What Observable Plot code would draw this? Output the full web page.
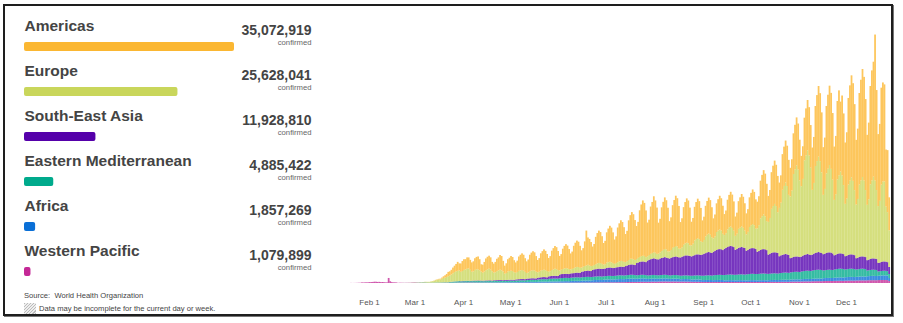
<!DOCTYPE html>
<html>
<head>
<meta charset="utf-8">
<script src="https://cdn.jsdelivr.net/npm/d3@7"></script>
<script src="https://cdn.jsdelivr.net/npm/@observablehq/plot@0.6"></script>
<style>
  html, body { margin: 0; padding: 0; background: #fff; }
  body { font-family: "Liberation Sans", Arial, sans-serif; }
  #wrap { position: relative; width: 903px; height: 323px; overflow: hidden; background: #fff; }
  #frame { position: absolute; left: 3px; top: 4px; width: 886px; height: 308px; border: 2px solid #1e1e1e; box-shadow: 1px 1px 0 #777; }
  #panel { position: absolute; left: 0; top: 0; }
  #chart { position: absolute; left: 320px; top: 0; }
  .note { position: absolute; font-size: 7.6px; line-height: 7.6px; color: #444; white-space: nowrap; }
  #hatch { position: absolute; left: 24px; top: 303px; width: 12px; height: 11px;
    background: repeating-linear-gradient(135deg, #bbb 0 1px, #eee 1px 2.2px); }
</style>
</head>
<body>
<div id="wrap">
  <div id="frame"></div>
  <div id="panel"></div>
  <div id="chart"></div>
  <div class="note" style="left:24px;top:292px;">Source:&nbsp; World Health Organization</div>
  <div id="hatch"></div>
  <div class="note" style="left:39px;top:305px;">Data may be incomplete for the current day or week.</div>
</div>
<script>
// ---------- Legend panel data ----------
const regions = ["Americas", "Europe", "South-East Asia", "Eastern Mediterranean", "Africa", "Western Pacific"];
const totals = [35072919, 25628041, 11928810, 4885422, 1857269, 1079899];
const colors = ["#fbb732", "#c9d65b", "#5500aa", "#00aa8c", "#0a6fd6", "#c42896"];
const chartColors = ["#fdc65c", "#d5df7e", "#7736bf", "#35bca2", "#3d8ce0", "#d057ad"];
const confirmedLabel = "confirmed";
const tickMonths = ["2020-02-01","2020-03-01","2020-04-01","2020-05-01","2020-06-01","2020-07-01","2020-08-01","2020-09-01","2020-10-01","2020-11-01","2020-12-01"];

// ---------- Daily new cases (thousands), Mon 20 Jan 2020 .. Mon 28 Dec 2020, one row per week ----------
const firstDay = "2020-01-20";

const westernPacific = [
[0.3,0.1,0.2,0.3,0.5,0.7,0.8],[1.8,1.5,1.8,2.0,2.1,2.6,2.8],[3.2,3.9,3.7,3.2,3.4,2.7,3.0],[2.5,2.0,2.0,15.1,5.1,2.6,2.0],
[1.9,1.7,0.4,0.9,0.8,0.6,0.5],[0.6,0.7,0.7,0.8,1.1,1.3,1.4],[0.9,0.8,0.8,0.6,0.8,0.7,0.5],[0.4,0.3,0.3,0.3,0.3,0.3,0.4],
[0.4,0.5,0.5,0.6,0.7,0.7,0.8],[0.8,0.9,0.9,1.0,1.0,1.1,1.2],[1.0,1.1,1.2,1.3,1.3,1.4,1.3],[1.2,1.3,1.2,1.1,1.2,1.1,1.0],
[0.9,0.9,1.0,0.9,0.9,1.1,0.8],[0.9,0.8,0.8,0.9,0.8,0.8,0.7],[0.8,0.7,0.7,0.8,0.8,0.9,0.8],[0.9,0.9,1.0,0.9,0.9,1.0,0.9],
[0.9,0.9,0.9,0.9,0.9,0.8,0.9],[0.8,0.9,0.9,0.9,0.9,1.0,0.9],[0.9,1.0,0.9,1.0,1.0,1.0,1.1],[1.1,1.2,1.1,1.2,1.3,1.3,1.2],
[1.2,1.3,1.3,1.3,1.4,1.4,1.3],[1.4,1.5,1.4,1.5,1.6,1.5,1.5],[1.6,1.7,1.8,1.8,1.9,1.9,1.8],[1.9,2.0,2.1,2.1,2.2,2.2,2.1],
[2.2,2.3,2.4,2.5,2.5,2.6,2.5],[2.8,2.9,3.0,3.1,3.2,3.2,3.1],[3.3,3.4,3.6,3.7,3.8,3.8,3.6],[3.7,3.8,3.9,4.1,4.2,4.1,4.0],
[4.4,4.5,4.5,4.6,4.7,4.6,4.5],[4.4,4.5,4.6,4.6,4.5,4.4,4.3],[4.2,4.3,4.3,4.2,4.1,4.1,4.0],[3.7,3.6,3.7,3.6,3.6,3.5,3.4],
[3.1,3.0,3.1,3.0,3.0,2.9,2.9],[2.9,3.0,3.0,3.0,3.1,3.0,2.9],[2.9,3.0,3.0,3.0,3.1,3.0,3.0],[2.9,3.0,3.0,3.1,3.0,3.0,2.9],
[2.9,3.0,3.0,3.0,3.1,3.0,3.0],[3.0,3.0,3.1,3.0,3.0,3.0,2.9],[3.1,3.2,3.3,3.3,3.4,3.3,3.2],[3.4,3.5,3.6,3.6,3.7,3.6,3.5],
[4.0,4.1,4.2,4.2,4.3,4.3,4.2],[4.6,4.7,4.8,4.9,4.9,4.9,4.8],[5.2,5.3,5.4,5.5,5.5,5.5,5.4],[5.8,5.9,6.0,6.1,6.1,6.0,6.0],
[6.4,6.5,6.6,6.7,6.7,6.6,6.5],[7.0,7.1,7.2,7.3,7.3,7.2,7.1],[7.6,7.7,7.8,7.9,7.9,7.8,7.8],[8.2,8.3,8.4,8.5,8.5,8.4,8.4],
[8.8,8.9,9.0,9.1,9.0,8.9,8.8],[6.0]
].flat();

const africa = [
[0,0,0,0,0,0,0],[0,0,0,0,0,0,0],[0,0,0,0,0,0,0],[0,0,0,0,0,0,0],
[0,0,0,0,0,0,0],[0,0,0,0,0,0,0],[0,0,0,0,0,0,0],[0,0,0,0,0.1,0.1,0.1],
[0.1,0.1,0.1,0.1,0.2,0.2,0.2],[0.3,0.3,0.3,0.4,0.4,0.4,0.5],[0.5,0.5,0.6,0.6,0.7,0.7,0.6],[0.6,0.6,0.7,0.7,0.8,0.8,0.7],
[0.8,0.8,0.9,0.9,1,1,0.9],[1.1,1.1,1.2,1.2,1.3,1.3,1.2],[1.4,1.4,1.5,1.6,1.6,1.6,1.5],[1.7,1.7,1.8,1.9,1.9,1.9,1.8],
[2.2,2.3,2.4,2.5,2.5,2.5,2.4],[2.8,2.9,3,3.1,3.2,3.1,3],[3.4,3.5,3.6,3.7,3.8,3.7,3.6],[4,4.1,4.2,4.3,4.4,4.3,4.2],
[4.8,5,5.1,5.2,5.3,5.2,5.1],[5.7,5.9,6,6.1,6.2,6.1,6],[6.8,7,7.2,7.4,7.5,7.3,7.2],[8,8.2,8.4,8.6,8.7,8.5,8.4],
[8.6,8.8,9,9.2,9.3,9.1,9],[9.4,9.7,9.9,10.2,10.3,10.1,9.8],[9.5,9.7,10,10.2,10.2,10,9.7],[8.6,8.8,9,9.3,9.3,9.1,8.9],
[8.6,8.8,9,9.2,9.3,9.1,9],[8,8.2,8.4,8.6,8.7,8.5,8.4],[7.2,7.3,7.5,7.7,7.7,7.6,7.5],[6.6,6.7,6.9,7.1,7.1,7,6.9],
[5.7,5.8,6,6.2,6.2,6.1,6],[5.7,5.9,6,6.1,6.2,6.1,6],[5.1,5.3,5.4,5.5,5.6,5.5,5.4],[5.2,5.3,5.4,5.5,5.5,5.4,5.3],
[5.1,5.2,5.4,5.6,5.6,5.5,5.4],[5.2,5.3,5.4,5.5,5.6,5.4,5.3],[5.4,5.6,5.7,5.8,5.9,5.8,5.7],[5.7,5.9,6,6.1,6.2,6.1,6],
[6.3,6.4,6.6,6.8,6.8,6.7,6.6],[6.8,7,7.2,7.4,7.5,7.3,7.2],[7.4,7.6,7.8,8,8.1,7.9,7.8],[8.6,8.8,9,9.2,9.3,9.1,9],
[9.4,9.7,9.9,10.2,10.3,10.1,9.8],[10.3,10.5,10.8,11.1,11.2,11,10.7],[10.9,11.1,11.4,11.7,11.8,11.6,11.3],[12,12.3,12.6,12.9,13,12.8,12.6],
[12.9,13.2,13.5,13.8,13.9,13.7,13.4],[9]
].flat();

const easternMediterranean = [
[0,0,0,0,0,0,0],[0,0,0,0,0,0,0],[0,0,0,0,0,0,0],[0,0,0,0,0,0,0],
[0,0,0,0,0,0.1,0.1],[0.1,0.1,0.1,0.1,0.2,0.2,0.3],[0.5,0.6,0.8,0.9,1.1,1.2,1.1],[0.8,0.9,0.9,1,1,1.1,1.1],
[1.1,1.2,1.2,1.3,1.2,1.2,1.3],[1.8,2.2,2.8,3.2,3.4,3.6,3.8],[3.4,3.5,3.6,3.7,3.8,3.7,3.6],[3.7,3.8,3.9,4,4,3.9,3.9],
[3.7,3.8,3.9,4,4.1,4,3.8],[4,4.1,4.2,4.3,4.4,4.3,4.1],[4.3,4.4,4.5,4.6,4.7,4.6,4.4],[4.8,5,5.1,5.2,5.3,5.2,5.1],
[5.7,5.9,6,6.2,6.2,6.1,6],[6.8,7,7.2,7.4,7.5,7.3,7.1],[8,8.2,8.4,8.6,8.7,8.5,8.3],[9.1,9.4,9.6,9.8,9.9,9.7,9.5],
[9.7,10,10.2,10.4,10.5,10.3,10.1],[10,10.3,10.5,10.7,10.8,10.6,10.4],[10,10.3,10.5,10.7,10.8,10.6,10.4],[10.1,10.3,10.5,10.7,10.7,10.5,10.4],
[10.6,10.9,11.1,11.3,11.4,11.2,11],[10.7,10.9,11.1,11.3,11.3,11.1,11],[10.1,10.3,10.5,10.7,10.7,10.5,10.4],[10.1,10.3,10.5,10.7,10.7,10.5,10.4],
[10,10.3,10.5,10.7,10.8,10.6,10.3],[10.1,10.3,10.5,10.7,10.7,10.5,10.4],[10.4,10.6,10.8,11,11,10.8,10.7],[11.5,11.8,12,12.2,12.3,12.1,11.9],
[13,13.2,13.5,13.8,13.9,13.7,13.4],[14.4,14.7,15,15.3,15.4,15.2,14.9],[15.8,16.2,16.5,16.8,16.9,16.7,16.4],[16.4,16.8,17.1,17.4,17.5,17.3,17],
[17.9,18.3,18.6,18.9,19,18.8,18.5],[18.7,19.1,19.5,19.9,20,19.7,19.4],[18.8,19.2,19.5,19.8,19.9,19.6,19.3],[20.2,20.6,21,21.4,21.5,21.2,20.9],
[21.3,21.8,22.2,22.6,22.7,22.4,22.1],[23,23.5,24,24.5,24.6,24.3,23.9],[24.8,25.3,25.8,26.3,26.4,26.1,25.7],[23.1,23.5,24,24.5,24.6,24.3,23.9],
[24.5,25,25.5,26,26.1,25.8,25.4],[23.2,23.6,24.1,24.5,24.5,24.2,23.8],[21.9,22.3,22.8,23.2,23.3,23,22.7],[17.3,17.6,18,18.4,18.4,18.2,17.9],
[13,13.2,13.5,13.8,13.9,13.7,13.4],[12]
].flat();

const southEastAsia = [
[0,0,0,0,0,0,0],[0,0,0,0,0,0,0],[0,0,0,0,0,0,0],[0,0,0,0,0,0,0],
[0,0,0,0,0,0,0],[0,0,0,0,0,0,0],[0,0,0,0,0,0,0],[0,0,0,0,0,0,0],
[0,0,0,0.1,0.1,0.1,0.1],[0.2,0.2,0.3,0.3,0.3,0.3,0.4],[0.7,0.8,0.9,0.9,1,1,1],[1.3,1.4,1.5,1.5,1.6,1.6,1.6],
[1.6,1.7,1.8,1.9,1.9,1.9,1.8],[2.2,2.3,2.4,2.5,2.5,2.5,2.4],[2.5,2.6,2.7,2.8,2.8,2.8,2.7],[3.3,3.5,3.6,3.7,3.8,3.7,3.6],
[4.2,4.4,4.5,4.6,4.7,4.6,4.5],[5.6,5.8,6,6.2,6.3,6.1,6],[7.6,7.9,8.1,8.3,8.4,8.3,8.1],[11,12,12,12,12,12,12],
[13,13,13,14,14,14,14],[17,17,18,18,19,18,18],[21,22,22,23,23,23,23],[23,23,24,25,25,25,24],
[24,25,25,26,26,26,26],[28,29,30,31,31,31,30],[37,38,39,40,40,40,39],[45,47,48,49,50,49,48],
[48,50,51,52,53,52,51],[51,53,54,55,56,55,54],[55,57,58,60,60,60,59],[58,60,61,63,63,63,62],
[64,66,67,69,70,69,68],[71,73,75,77,77,77,75],[79,81,83,85,86,85,83],[75,77,80,81,82,81,80],
[71,73,75,77,77,77,75],[67,69,71,73,73,73,71],[58,60,62,63,63,63,62],[51,53,54,55,56,55,54],
[43,44,45,46,46,46,45],[45,47,48,49,50,49,48],[48,50,51,52,53,52,51],[49,50,51,52,52,52,50],
[43,44,45,46,46,46,45],[40,41,42,43,43,43,42],[34,35,36,37,37,37,36],[31,32,33,34,34,34,33],
[26,26,27,28,28,28,27],[21]
].flat();

const europe = [
[0,0,0,0,0,0,0],[0,0,0,0,0,0,0],[0,0,0,0,0,0,0],[0,0,0,0,0,0,0],
[0,0,0,0,0,0.1,0.1],[0.1,0.1,0.2,0.2,0.3,0.4,0.5],[0.5,0.6,0.6,0.9,1,1.5,1.8],[2,2,3,4,5,7,8],
[9,9,11,13,14,16,18],[20,22,25,28,30,31,32],[28,30,33,34,36,37,33],[27,28,32,34,33,31,27],
[24,27,31,33,35,32,28],[23,24,27,29,31,29,26],[19,21,25,26,27,26,23],[20,22,25,26,27,25,22],
[17,18,22,23,24,23,20],[16,17,20,21,22,21,19],[14,15,18,19,21,20,18],[12,13,15,16,17,16,15],
[12,13,15,16,17,17,15],[12,14,15,16,17,16,15],[12,13,15,16,17,17,15],[12,13,16,16,17,16,15],
[12,13,15,16,17,17,15],[12,13,15,17,17,16,15],[12,14,15,16,17,17,15],[13,14,16,17,18,18,16],
[17,18,21,23,24,24,20],[21,23,28,29,31,31,26],[26,28,34,36,38,37,32],[33,36,44,46,48,46,41],
[37,41,50,53,55,53,47],[40,43,54,56,59,56,49],[41,44,53,57,58,55,49],[42,46,57,59,62,59,52],
[49,54,66,69,72,69,61],[70,77,95,99,104,99,87],[98,107,132,139,145,139,122],[145,158,195,205,214,205,180],
[185,201,249,261,273,261,230],[211,230,284,297,311,297,262],[194,212,261,274,286,274,242],[178,194,239,251,262,251,221],
[166,181,224,234,245,234,207],[157,171,211,221,231,221,195],[161,176,217,228,238,228,201],[166,181,224,234,245,234,207],
[170,185,232,240,240,165,150],[110]
].flat();

const americas = [
[0,0,0,0,0,0,0],[0,0,0,0,0,0,0],[0,0,0,0,0,0,0],[0,0,0,0,0,0,0],
[0,0,0,0,0,0,0],[0,0,0,0,0,0,0],[0,0,0.1,0.1,0.1,0.2,0.2],[0.2,0.3,0.4,0.5,0.8,1,1.5],
[1.8,2.3,3.5,5,7,9,13],[12,14,17,19,22,27,21],[25,30,32,31,34,33,30],[28,30,35,37,39,33,22],
[24,29,35,38,39,37,28],[27,31,37,39,44,43,32],[24,29,37,40,44,42,36],[31,34,43,47,50,48,41],
[35,39,49,54,57,55,47],[37,41,52,57,61,58,51],[41,45,58,64,68,66,57],[44,47,61,68,72,69,60],
[48,52,67,74,79,76,66],[52,56,74,105,82,80,72],[58,63,82,91,97,93,83],[65,70,91,101,108,104,92],
[73,80,104,114,122,117,104],[84,91,119,131,140,135,120],[99,108,140,155,166,159,140],[101,106,142,153,168,157,139],
[93,101,131,144,155,148,131],[91,98,128,141,151,145,128],[80,87,113,124,133,128,113],[71,77,101,111,119,114,100],
[65,70,92,101,108,104,90],[60,66,86,94,101,97,84],[63,68,89,97,104,100,88],[58,63,83,91,97,93,82],
[63,68,89,97,104,100,88],[80,87,113,124,133,128,112],[78,84,110,121,130,124,109],[76,82,107,118,126,121,105],
[86,94,122,134,144,138,122],[91,98,128,141,151,145,128],[127,138,180,198,212,204,180],[143,154,202,222,238,228,200],
[160,175,235,255,210,240,215],[184,199,260,286,306,293,258],[194,211,275,302,324,311,273],[210,230,295,330,345,438,300],
[216,231,291,297,291,171,186],[99]
].flat();

const seriesByRegion = [americas, europe, southEastAsia, easternMediterranean, africa, westernPacific];
seriesByRegion.forEach((s, k) => { if (s.length !== 344) throw new Error(regions[k] + " has " + s.length + " days"); });

// ---------- Tables built from the arrays ----------
const legendRows = regions.map((r, i) => ({region: r, total: totals[i]}));
const stackOrder = regions.slice().reverse();
const t0 = new Date(firstDay).getTime();
const daily = [];
stackOrder.forEach(r => {
  seriesByRegion[regions.indexOf(r)].forEach((v, i) => daily.push({date: new Date(t0 + i * 864e5), region: r, value: v}));
});

const font = "'Liberation Sans', Arial, sans-serif";

// ---------- Left panel ----------
const panel = Plot.plot({
  width: 320, height: 323,
  marginLeft: 24, marginRight: 9, marginTop: 0, marginBottom: 0,
  style: {background: "transparent", fontFamily: font, overflow: "visible"},
  x: {domain: [0, d3.max(totals)], range: [24, 234], axis: null},
  y: {type: "band", domain: regions, range: [4.46, 314.5], padding: 0.8, axis: null},
  color: {domain: regions, range: colors},
  marks: [
    Plot.barX(legendRows, {x: "total", y: "region", fill: "region", rx: 2}),
    Plot.text(legendRows, {y: "region", text: "region", frameAnchor: "left", textAnchor: "start", lineAnchor: "bottom", dy: -16.5, fontSize: 15.5, fontWeight: "bold", fill: "#444"}),
    Plot.text(legendRows, {y: "region", text: d => d3.format(",")(d.total), frameAnchor: "right", textAnchor: "end", lineAnchor: "bottom", dy: -12.5, fontSize: 14, fontWeight: "bold", fill: "#444"}),
    Plot.text(legendRows, {y: "region", text: () => confirmedLabel, frameAnchor: "right", textAnchor: "end", lineAnchor: "bottom", dy: -2, fontSize: 7.7, fill: "#666"})
  ]
});
document.getElementById("panel").appendChild(panel);

// ---------- Daily stacked chart ----------
const chart = Plot.plot({
  width: 575, height: 323,
  marginTop: 33, marginBottom: 40, marginLeft: 0, marginRight: 0,
  style: {background: "transparent", fontFamily: font, fontSize: "8px", color: "#555", overflow: "visible"},
  x: {type: "utc", domain: [new Date("2020-01-01"), new Date("2020-12-31")], range: [0.4, 573.1],
      ticks: tickMonths.map(s => new Date(s)), tickFormat: d3.utcFormat("%b %-d"), tickSize: 0, tickPadding: 16, label: null},
  y: {domain: [0, 750], axis: null},
  color: {domain: regions, range: chartColors},
  marks: [
    Plot.rectY(daily, {x: "date", interval: d3.utcDay, y: "value", fill: "region", order: stackOrder, inset: 0, insetLeft: -0.1, insetRight: -0.1})
  ]
});
document.getElementById("chart").appendChild(chart);
</script>
</body>
</html>
